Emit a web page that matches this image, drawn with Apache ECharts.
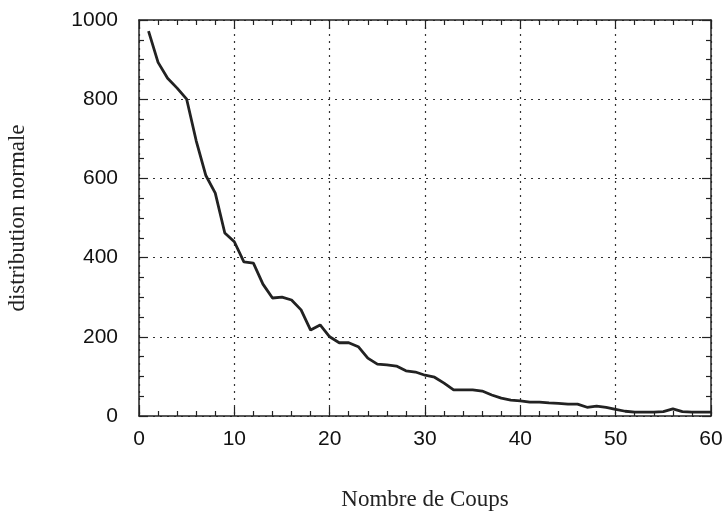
<!DOCTYPE html>
<html><head><meta charset="utf-8">
<script src="https://cdn.jsdelivr.net/npm/echarts@6/dist/echarts.min.js"></script>
<style>html,body{margin:0;padding:0;background:#fff}#c{width:725px;height:512px}</style>
</head><body><div id="c"></div>
<script>
const coups = [];
for (let i = 1; i <= 60; i++) coups.push(i);
const distribution = [972,893,853,828,800,695,608,563,462,440,
  389,386,333,298,300,293,268,217,230,200,
  185,185,175,146,131,129,126,114,111,103,
  98,83,66,66,66,63,53,45,40,38,
  35,35,33,32,30,30,22,25,22,17,
  12,10,10,10,11,18,11,10,10,10];
const xTicks = [0,10,20,30,40,50,60];
const yTicks = [0,200,400,600,800,1000];

const chart = echarts.init(document.getElementById('c'));
const lab = {fontFamily:'Liberation Sans, Arial, sans-serif', fontSize:21, color:'#111', formatter:v=>String(v)};
const tickStyle = {color:'#222', width:1.2};
function ax(extra, splitNum){
  return Object.assign({
    axisLine:{show:true, onZero:false, lineStyle:{color:'#222', width:1.5}},
    axisTick:{show:true, inside:true, length:9, lineStyle:tickStyle},
    minorTick:{show:true, splitNumber:splitNum, length:5, lineStyle:tickStyle},
  }, extra);
}
const grid = {type:[2,5], color:'#333', width:1.2};
const nameFont = {fontFamily:'Liberation Serif, Times New Roman, serif', fontSize:23, color:'#222'};
chart.setOption({
  animation:false,
  grid:{left:139, right:14, top:20, bottom:96, show:false, containLabel:false, outerBoundsMode:'none'},
  xAxis:[ax({
    type:'value', min:xTicks[0], max:xTicks[xTicks.length-1], interval:10,
    name:'Nombre de Coups', nameLocation:'middle', nameGap:72,
    nameTextStyle:nameFont,
    axisLabel:Object.assign({margin:13}, lab),
    splitLine:{show:true, lineStyle:grid},
  },5),
  ax({
    type:'value', position:'top', min:0, max:60, interval:10,
    axisLabel:{show:false}, splitLine:{show:false}
  },5)],
  yAxis:[ax({
    type:'value', min:yTicks[0], max:yTicks[yTicks.length-1], interval:200,
    name:'distribution normale', nameLocation:'middle', nameGap:110, nameRotate:90,
    nameTextStyle:nameFont,
    axisLabel:Object.assign({margin:21}, lab),
    splitLine:{show:true, lineStyle:grid},
  },4),
  ax({
    type:'value', position:'right', min:0, max:1000, interval:200,
    axisLabel:{show:false}, splitLine:{show:false}
  },4)],
  series:[{
    type:'line', showSymbol:false, symbol:'none',
    data: coups.map((c,i)=>[c, distribution[i]]),
    lineStyle:{color:'#222', width:2.8}
  }]
});
</script></body></html>
